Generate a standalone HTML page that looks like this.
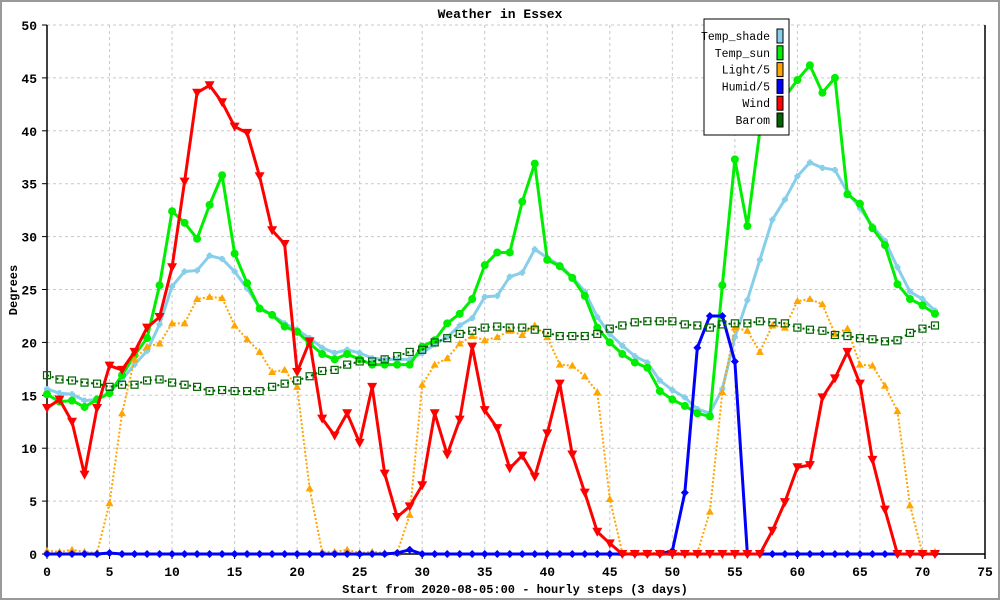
<!DOCTYPE html>
<html><head><meta charset="utf-8"><style>
html,body{margin:0;padding:0;background:#fff;}
svg{display:block;}
text{font-family:"Liberation Mono",monospace;}
</style></head><body>
<svg id="chart" width="1000" height="600" viewBox="0 0 1000 600" xmlns="http://www.w3.org/2000/svg">
<rect x="1" y="1" width="998" height="598" fill="#fff" stroke="#999" stroke-width="2"/>
<text x="500" y="18" text-anchor="middle" font-size="13" font-weight="bold">Weather in Essex</text>
<g id="grid"></g>
<g id="axes"></g>
<g id="series"></g>
<text x="515" y="593" text-anchor="middle" font-size="12" font-weight="bold">Start from 2020-08-05:00 - hourly steps (3 days)</text>
<text transform="translate(17,290) rotate(-90)" text-anchor="middle" font-size="12" font-weight="bold">Degrees</text>
<g id="legend"></g>
</svg>
<script>
const xTicks=[0,5,10,15,20,25,30,35,40,45,50,55,60,65,70,75];
const yTicks=[0,5,10,15,20,25,30,35,40,45,50];
const seriesNames=["Temp_shade","Temp_sun","Light/5","Humid/5","Wind","Barom"];
const tempShade=[15.6,15.2,15.1,14.5,14.6,15.3,16.5,17.9,19.2,21.7,25.3,26.7,26.8,28.2,27.9,26.7,25.1,23.3,22.6,21.8,21.2,20.4,19.5,19.0,19.3,19.0,18.5,18.4,18.4,18.4,19.0,19.8,20.5,21.6,22.3,24.3,24.4,26.2,26.6,28.8,28.0,27.3,26.2,24.8,22.4,20.8,19.7,18.7,18.1,16.4,15.5,14.8,13.7,13.3,15.6,20.5,24.0,27.8,31.6,33.5,35.7,37.0,36.5,36.3,34.2,32.7,31.0,29.6,27.1,24.8,24.1,23.0];
const tempSun=[15.1,14.4,14.5,13.9,14.6,15.2,16.9,18.8,20.4,25.4,32.4,31.3,29.8,33.0,35.8,28.4,25.6,23.2,22.6,21.5,21.0,19.9,18.9,18.4,18.9,18.4,17.9,17.9,17.9,17.9,19.6,20.2,21.8,22.7,24.1,27.3,28.5,28.5,33.3,36.9,27.8,27.2,26.1,24.4,21.4,20.0,18.9,18.1,17.6,15.4,14.6,14.0,13.3,13.0,25.4,37.3,31.0,40.0,42.5,43.2,44.8,46.2,43.6,45.0,34.0,33.1,30.8,29.2,25.5,24.1,23.5,22.7];
const light=[0.3,0.2,0.4,0.2,0.1,4.8,13.3,18.4,19.6,19.9,21.8,21.8,24.1,24.3,24.2,21.6,20.3,19.1,17.2,17.4,15.8,6.2,0.2,0.2,0.4,0.1,0.2,0.1,0.1,3.7,16.0,17.9,18.5,19.9,20.6,20.2,20.5,21.1,20.7,21.6,20.5,17.9,17.8,16.8,15.3,5.2,0.1,0.1,0.1,0.1,0.1,0.1,0.1,4.0,15.3,21.4,21.1,19.1,21.6,21.4,23.9,24.1,23.6,20.8,21.3,17.9,17.8,15.9,13.5,4.6,0.1,0.2];
const humid=[0,0,0,0,0,0.1,0,0,0,0,0,0,0,0,0,0,0,0,0,0,0,0,0,0,0,0,0,0,0.1,0.4,0,0,0,0,0,0,0,0,0,0,0,0,0,0,0,0,0,0,0,0,0.3,5.8,19.5,22.5,22.5,18.2,0,0,0,0,0,0,0,0,0,0,0,0,0,0,0,0];
const wind=[13.8,14.6,12.5,7.5,13.8,17.8,17.4,19.1,21.4,22.4,27.1,35.2,43.6,44.3,42.7,40.4,39.8,35.7,30.6,29.3,17.2,20.1,12.8,11.2,13.3,10.5,15.8,7.6,3.5,4.5,6.5,13.3,9.4,12.7,19.6,13.6,11.9,8.1,9.3,7.3,11.4,16.1,9.4,5.8,2.1,1.0,0,0,0,0,0,0,0,0,0,0,0,0,2.2,4.9,8.2,8.4,14.8,16.6,19.1,16.1,8.9,4.2,0,0,0,0];
const barom=[16.9,16.5,16.4,16.2,16.1,15.8,16.0,16.0,16.4,16.5,16.2,16.0,15.8,15.4,15.5,15.4,15.4,15.4,15.8,16.1,16.4,16.8,17.3,17.4,17.9,18.2,18.2,18.4,18.7,19.1,19.3,20.0,20.4,20.8,21.1,21.4,21.5,21.4,21.4,21.2,20.9,20.6,20.6,20.6,20.8,21.3,21.6,21.9,22.0,22.0,22.0,21.7,21.6,21.4,21.7,21.8,21.8,22.0,21.9,21.8,21.4,21.2,21.1,20.7,20.6,20.4,20.3,20.1,20.2,20.9,21.3,21.6];

const NS="http://www.w3.org/2000/svg";
const X0=47,X1=985,Y0=554,Y1=25;
function xs(v){return X0+(X1-X0)*v/75;}
function ys(v){return Y0-(Y0-Y1)*v/50;}
function mk(tag,attrs,parent){const e=document.createElementNS(NS,tag);for(const k in attrs)e.setAttribute(k,attrs[k]);parent.appendChild(e);return e;}
const grid=document.getElementById('grid'),axes=document.getElementById('axes'),ser=document.getElementById('series'),leg=document.getElementById('legend');

xTicks.forEach(t=>{
  if(t>0&&t<75){const l=mk('line',{x1:xs(t),x2:xs(t),y1:Y1,y2:Y0,stroke:'#c8c8c8','stroke-dasharray':'3,3'},grid);
  
  }
  const tk=mk('line',{x1:xs(t),x2:xs(t),y1:Y0,y2:Y0+5,stroke:'#000'},axes);
  
  
  const tx=mk('text',{x:xs(t),y:Y0+22,'text-anchor':'middle','font-size':13,'font-weight':'bold'},axes);
  tx.textContent=t;
  
  
});
yTicks.forEach(t=>{
  if(t>0){const l=mk('line',{x1:X0,x2:X1,y1:ys(t),y2:ys(t),stroke:'#c8c8c8','stroke-dasharray':'3,3'},grid);
  
  }
  const tk=mk('line',{x1:X0-5,x2:X0,y1:ys(t),y2:ys(t),stroke:'#000'},axes);
  
  
  const tx=mk('text',{x:X0-10,y:ys(t)+5,'text-anchor':'end','font-size':13,'font-weight':'bold'},axes);
  tx.textContent=t;
  
  
});
const al=mk('line',{x1:X0,x2:X0,y1:Y1,y2:Y0,stroke:'#000','stroke-width':1.5},axes);


const ab=mk('line',{x1:X0,x2:X1,y1:Y0,y2:Y0,stroke:'#000','stroke-width':1.5},axes);


const ar=mk('line',{x1:X1,x2:X1,y1:Y1,y2:Y0+5,stroke:'#000','stroke-width':1.5},axes);



function marker(type,x,y,color,g){
  let e;
  if(type==='circle')e=mk('circle',{cx:x,cy:y,r:4,fill:color},g);
  else if(type==='up')e=mk('polygon',{points:`${x-4},${y+3} ${x+4},${y+3} ${x},${y-4}`,fill:color},g);
  else if(type==='down')e=mk('polygon',{points:`${x-5},${y-4} ${x+5},${y-4} ${x},${y+5}`,fill:color},g);
  else if(type==='diamond')e=mk('polygon',{points:`${x-4},${y} ${x},${y-4} ${x+4},${y} ${x},${y+4}`,fill:color},g);
  else if(type==='square')e=mk('rect',{x:x-3.5,y:y-3.5,width:7,height:7,fill:'none',stroke:color,'stroke-width':1.2},g);
  else if(type==='star')e=mk('path',{d:`M${x-3},${y}h6M${x},${y-3}v6`,stroke:color,'stroke-width':3},g);
  return e;
}
function drawSeries(name,data,color,width,dash,mtype){
  const g=mk('g',{},ser);
  
  
  const pts=data.map((v,i)=>xs(i)+','+ys(v)).join(' ');
  const attrs={points:pts,fill:'none',stroke:color,'stroke-width':width,'stroke-linejoin':'round'};
  if(dash)attrs['stroke-dasharray']=dash;
  const pl=mk('polyline',attrs,g);
  
  
  data.forEach((v,i)=>{
    const m=marker(mtype,xs(i),ys(v),color,g);
    
    
  });
}
drawSeries('temp-shade',tempShade,'#87ceeb',3,null,'star');
drawSeries('temp-sun',tempSun,'#00ee00',3,null,'circle');
drawSeries('light',light,'#ffa500',2,'2,2','up');
drawSeries('humid',humid,'#0000ff',3,null,'diamond');
drawSeries('wind',wind,'#ff0000',3,null,'down');
drawSeries('barom',barom,'#006400',2,'2,3','square');

const colors=['#87ceeb','#00ee00','#ffa500','#0000ff','#ff0000','#006400'];
const lb=mk('rect',{x:704,y:19,width:85,height:116,fill:'#fff',stroke:'#000','stroke-width':1},leg);


seriesNames.forEach((n,i)=>{
  const y=36+i*16.8;
  const t=mk('text',{x:770,y:y+4,'text-anchor':'end','font-size':11.5},leg);
  t.textContent=n;
  
  
  const s=mk('rect',{x:777,y:y-7,width:6,height:14,fill:colors[i],stroke:'#000','stroke-width':1},leg);
  
  
});
</script>
</body></html>
